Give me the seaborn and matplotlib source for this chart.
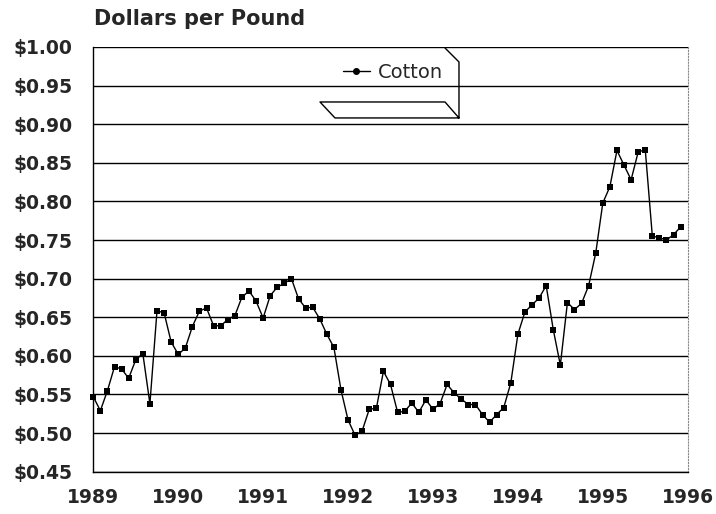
"""
Cotton price, dollars per pound, monthly 1989-1995
"""
import numpy as np
import pandas as pd
import matplotlib
matplotlib.use("Agg")
import matplotlib.pyplot as plt
from matplotlib.ticker import FuncFormatter, MultipleLocator
from matplotlib.lines import Line2D
import seaborn as sns

# monthly prices, Jan 1989 .. Dec 1995
prices_1989 = [0.547, 0.529, 0.555, 0.586, 0.583, 0.571, 0.595, 0.603, 0.538, 0.658, 0.656, 0.618]
prices_1990 = [0.602, 0.610, 0.638, 0.658, 0.662, 0.639, 0.639, 0.647, 0.652, 0.676, 0.684, 0.671]
prices_1991 = [0.649, 0.678, 0.689, 0.694, 0.700, 0.674, 0.662, 0.663, 0.648, 0.628, 0.611, 0.556]
prices_1992 = [0.517, 0.497, 0.503, 0.531, 0.532, 0.580, 0.563, 0.527, 0.528, 0.539, 0.527, 0.543]
prices_1993 = [0.531, 0.538, 0.563, 0.552, 0.544, 0.537, 0.537, 0.524, 0.514, 0.524, 0.533, 0.565]
prices_1994 = [0.628, 0.657, 0.666, 0.675, 0.691, 0.634, 0.588, 0.669, 0.660, 0.668, 0.691, 0.733]
prices_1995 = [0.798, 0.819, 0.866, 0.847, 0.828, 0.864, 0.867, 0.755, 0.753, 0.750, 0.757, 0.767]

years = [1989, 1990, 1991, 1992, 1993, 1994, 1995]
prices = (prices_1989 + prices_1990 + prices_1991 + prices_1992
          + prices_1993 + prices_1994 + prices_1995)
x_ticks = [1989, 1990, 1991, 1992, 1993, 1994, 1995, 1996]
y_ticks = [0.45, 0.50, 0.55, 0.60, 0.65, 0.70, 0.75, 0.80, 0.85, 0.90, 0.95, 1.00]

df = pd.DataFrame({
    "year": [y + m / 12 for y in years for m in range(12)],
    "price": prices,
})

sns.set_style("white")
plt.rcParams["font.family"] = ["DejaVu Sans"]

fig = plt.figure(figsize=(7.16, 5.14), dpi=100)
ax = fig.add_axes([0.1303, 0.0823, 0.8302, 0.8263])

sns.lineplot(data=df, x="year", y="price", ax=ax, color="black",
             linewidth=1, marker="s", markersize=4.5, markeredgewidth=0,
             legend=False)
for ln in ax.get_lines():
    ln.set_clip_on(False)
    ln.set_zorder(3)

ax.set_xlim(1989, 1996)
ax.set_ylim(0.45, 1.00)
ax.set_xticks(x_ticks)
ax.set_yticks(y_ticks)
ax.xaxis.set_minor_locator(MultipleLocator(1 / 12))
ax.yaxis.set_major_formatter(FuncFormatter(lambda v, p: f"${v:.2f}"))
ax.set_xlabel("")
ax.set_ylabel("")

for lab in ax.get_xticklabels() + ax.get_yticklabels():
    lab.set_fontweight("heavy")
    lab.set_fontsize(13.5)

ax.tick_params(axis="y", which="major", direction="out", length=8, width=1,
               color="black", pad=7)
ax.tick_params(axis="x", which="major", direction="inout", length=7, width=1,
               color="black", pad=8)
ax.tick_params(axis="x", which="minor", direction="out", length=3, width=0.8,
               color="black")

ax.yaxis.grid(True, color="black", linewidth=1)
ax.xaxis.grid(False)
ax.set_axisbelow(True)

for side in ["left", "bottom"]:
    ax.spines[side].set_color("black")
    ax.spines[side].set_linewidth(1)
ax.spines["top"].set_visible(False)
ax.spines["right"].set_color("#888888")
ax.spines["right"].set_linestyle(":")
ax.spines["right"].set_linewidth(0.8)

# legend in a hollow 3-D style box
handle = Line2D([], [], color="black", linewidth=1, marker="o", markersize=4)
ax.legend([handle], ["Cotton"], loc="center left",
          bbox_to_anchor=(0.39, 0.941), frameon=False, fontsize=14,
          handlelength=1.4, handletextpad=0.4)
box_x = [0.5917, 0.6152, 0.6152, 0.4066, 0.3814, 0.5917, 0.6152]
box_y = [0.9976, 0.9647, 0.8329, 0.8329, 0.8705, 0.8705, 0.8329]
ax.plot(box_x, box_y, color="black", linewidth=1,
        transform=ax.transAxes, clip_on=False)

fig.text(0.131, 0.964, "Dollars per Pound", fontsize=15, fontweight="heavy",
         ha="left", va="center")

fig.savefig("out.png", dpi=100)
